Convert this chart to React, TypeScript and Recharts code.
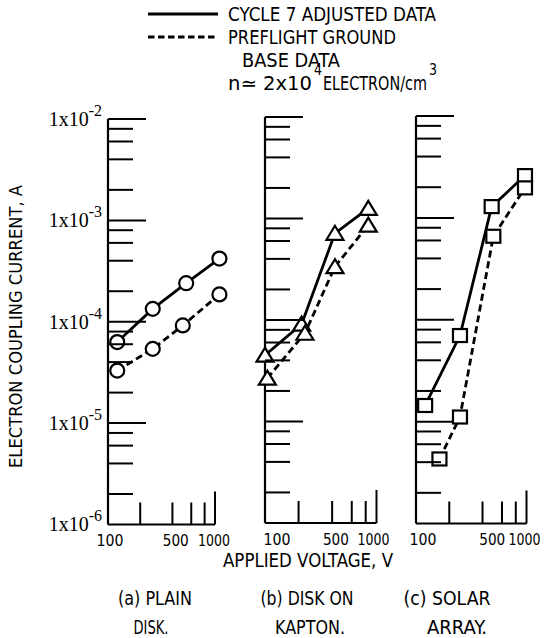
import React from "react";
import { LineChart, Line, XAxis, YAxis, ReferenceLine } from "recharts";

const SANS = "'DejaVu Sans Condensed', 'DejaVu Sans', 'Liberation Sans Narrow', sans-serif";
const SERIF = "'Liberation Serif', 'DejaVu Serif', serif";

// axis ticks (log-log)
const xTicks = [100, 200, 400, 500, 600, 800, 1000];
const xLabels = [100, 500, 1000];
const yTicks = [
  1e-6, 2e-6, 4e-6, 6e-6, 8e-6,
  1e-5, 2e-5, 4e-5, 6e-5, 8e-5,
  1e-4, 2e-4, 4e-4, 6e-4, 8e-4,
  1e-3, 2e-3, 4e-3, 6e-3, 8e-3,
  1e-2,
];

// (a) plain disk
const plainVoltsC7 = [122, 262, 538, 1100];
const plainCurrC7 = [6.3e-5, 1.34e-4, 2.4e-4, 4.2e-4];
const plainVoltsGnd = [122, 262, 500, 1100];
const plainCurrGnd = [3.3e-5, 5.4e-5, 9.2e-5, 1.86e-4];

// (b) disk on kapton
const kaptonVoltsC7 = [100, 213, 424, 844];
const kaptonCurrC7 = [4.5e-5, 9.1e-5, 7.15e-4, 1.26e-3];
const kaptonVoltsGnd = [105, 228, 424, 844];
const kaptonCurrGnd = [2.67e-5, 7.4e-5, 3.35e-4, 8.6e-4];

// (c) solar array
const arrayVoltsC7 = [121, 250, 484, 969];
const arrayCurrC7 = [1.44e-5, 7.0e-5, 1.29e-3, 2.6e-3];
const arrayVoltsGnd = [163, 250, 501, 969];
const arrayCurrGnd = [4.3e-6, 1.11e-5, 6.6e-4, 1.97e-3];

const zip = (v: number[], c: number[]) => v.map((x, i) => ({ v: x, i: c[i] }));

type Marker = "circle" | "triangle" | "square";

const panels = [
  { id: "a", axisX: 107.5, top: 118.5, bottom: 524, decadeW: 107, xMax: 1100, marker: "circle" as Marker,
    shift: [2, -7, -1], yLabels: true, c7: zip(plainVoltsC7, plainCurrC7), gnd: zip(plainVoltsGnd, plainCurrGnd) },
  { id: "b", axisX: 265, top: 117, bottom: 523, decadeW: 111.5, xMax: 1000, marker: "triangle" as Marker,
    shift: [12, -7, -3], yLabels: false, c7: zip(kaptonVoltsC7, kaptonCurrC7), gnd: zip(kaptonVoltsGnd, kaptonCurrGnd) },
  { id: "c", axisX: 416, top: 115.5, bottom: 523, decadeW: 110.5, xMax: 1000, marker: "square" as Marker,
    shift: [7, -1, -2], yLabels: false, c7: zip(arrayVoltsC7, arrayCurrC7), gnd: zip(arrayVoltsGnd, arrayCurrGnd) },
];

const PADL = 107, PADT = 20, PADR = 24, PADB = 30;
const labelWidth: Record<number, number> = { 100: 27, 500: 26, 1000: 32 };

const makeDot = (shape: Marker) => (p: any) => {
  const { cx, cy, index } = p;
  const k = `d-${index}`;
  if (cx == null || cy == null) return <g key={k} />;
  const st = { fill: "#fff", stroke: "#000", strokeWidth: 2.2 };
  if (shape === "circle") return <circle key={k} cx={cx} cy={cy} r={7} {...st} />;
  if (shape === "square") return <rect key={k} x={cx - 7} y={cy - 6.5} width={14} height={13} {...st} />;
  return <polygon key={k} points={`${cx},${cy - 7.5} ${cx - 8.5},${cy + 6.5} ${cx + 8.5},${cy + 6.5}`} {...st} />;
};

function YTick({ x, y, value, labels }: { x: number; y: number; value: number; labels: boolean }) {
  const lg = Math.log10(value);
  const e = Math.round(lg);
  const major = Math.abs(lg - e) < 1e-6;
  const len = major ? 38 : 25;
  return (
    <g>
      {value > yTicks[0] && <line x1={x} x2={x + len} y1={y} y2={y} stroke="#000" strokeWidth={2} />}
      {labels && major && (
        <text x={x - 6} y={y + 7} textAnchor="end" fontFamily={SERIF} fontSize={20} fill="#000">
          1x10<tspan dy={-10} fontSize={16}>{`${e}`}</tspan>
        </text>
      )}
    </g>
  );
}

function XTick({ x, y, value, shift }: { x: number; y: number; value: number; shift: number[] }) {
  const len = value === 1000 ? 33 : value === 100 || value === 500 ? 0 : 22;
  const li = xLabels.indexOf(value);
  return (
    <g>
      {len > 0 && <line x1={x} x2={x} y1={y} y2={y - len} stroke="#000" strokeWidth={2} />}
      {li >= 0 && (
        <text x={x + shift[li]} y={y + 21.5} textAnchor="middle" fontFamily={SANS} fontSize={16} fill="#000"
          textLength={labelWidth[value]} lengthAdjust="spacingAndGlyphs">
          {value}
        </text>
      )}
    </g>
  );
}

function Panel({ p }: { p: (typeof panels)[number] }) {
  const plotW = p.decadeW * Math.log10(p.xMax / 100);
  const plotH = p.bottom - p.top;
  const W = PADL + plotW + PADR;
  const H = PADT + plotH + PADB;
  const dot = makeDot(p.marker);
  return (
    <div style={{ position: "absolute", left: p.axisX - PADL, top: p.top - PADT, width: W, height: H }}>
      <LineChart width={W} height={H} margin={{ top: PADT, right: PADR, bottom: 0, left: 0 }}>
        <XAxis
          dataKey="v" type="number" scale="log" domain={[100, p.xMax]} ticks={xTicks} interval={0}
          height={PADB} axisLine={false} tickLine={false} tickSize={0} tickMargin={0}
          tick={(t: any) => <XTick x={t.x} y={t.y} value={t.payload.value} shift={p.shift} />}
        />
        <YAxis
          type="number" scale="log" domain={[1e-6, 1e-2]} ticks={yTicks} interval={0} width={PADL}
          axisLine={{ stroke: "#000", strokeWidth: 2.2 }} tickLine={false} tickSize={0} tickMargin={0}
          tick={(t: any) => <YTick x={t.x} y={t.y} value={t.payload.value} labels={p.yLabels} />}
        />
        <ReferenceLine segment={[{ x: 100, y: 1e-6 }, { x: 1000, y: 1e-6 }]} stroke="#000" strokeWidth={2.2} />
        <Line data={p.c7} dataKey="i" type="linear" stroke="#000" strokeWidth={2.8}
          dot={dot} activeDot={false} isAnimationActive={false} />
        <Line data={p.gnd} dataKey="i" type="linear" stroke="#000" strokeWidth={2.8} strokeDasharray="7 4"
          dot={dot} activeDot={false} isAnimationActive={false} />
      </LineChart>
    </div>
  );
}

// squeezed text, widths
function T({ x, y, w, children, size = 19, anchor = "start", transform }: any) {
  return (
    <text x={x} y={y} transform={transform} textAnchor={anchor} fontFamily={SANS} fontSize={size} fill="#000"
      textLength={w} lengthAdjust="spacingAndGlyphs">
      {children}
    </text>
  );
}

export default function App() {
  return (
    <div style={{ position: "absolute", left: 0, top: 0, width: 548, height: 638, background: "#fff", overflow: "hidden" }}>
      <svg width={548} height={638} style={{ position: "absolute", left: 0, top: 0 }}>
        {/* legend */}
        <line x1={148} x2={218} y1={14} y2={14} stroke="#000" strokeWidth={2.8} />
        <line x1={148} x2={218} y1={37} y2={37} stroke="#000" strokeWidth={2.8} strokeDasharray="6.5 3.5" />
        <T x={228} y={21} w={208}>CYCLE 7 ADJUSTED DATA</T>
        <T x={228} y={44} w={168}>PREFLIGHT GROUND</T>
        <T x={242} y={66.5} w={98}>BASE DATA</T>
        <T x={228} y={89.5} w={84}>n≃ 2x10</T>
        <T x={314} y={75} w={8} size={15}>4</T>
        <T x={323} y={89.5} w={104}>ELECTRON/cm</T>
        <T x={429} y={75} w={8} size={15}>3</T>

        {/* axis titles */}
        <T transform="translate(22,326.5) rotate(-90)" x={0} y={0} anchor="middle" w={283} size={18}>
          ELECTRON COUPLING CURRENT, A
        </T>
        <T x={308} y={567} anchor="middle" w={170}>APPLIED VOLTAGE, V</T>

        {/* panel captions */}
        <T x={155} y={605} anchor="middle" w={74}>(a) PLAIN</T>
        <T x={151} y={634} anchor="middle" w={35}>DISK.</T>
        <T x={307} y={605} anchor="middle" w={93}>(b) DISK ON</T>
        <T x={310} y={634} anchor="middle" w={70}>KAPTON.</T>
        <T x={447} y={605} anchor="middle" w={87}>(c) SOLAR</T>
        <T x={457} y={634} anchor="middle" w={60}>ARRAY.</T>
      </svg>
      {panels.map((p) => <Panel key={p.id} p={p} />)}
    </div>
  );
}
